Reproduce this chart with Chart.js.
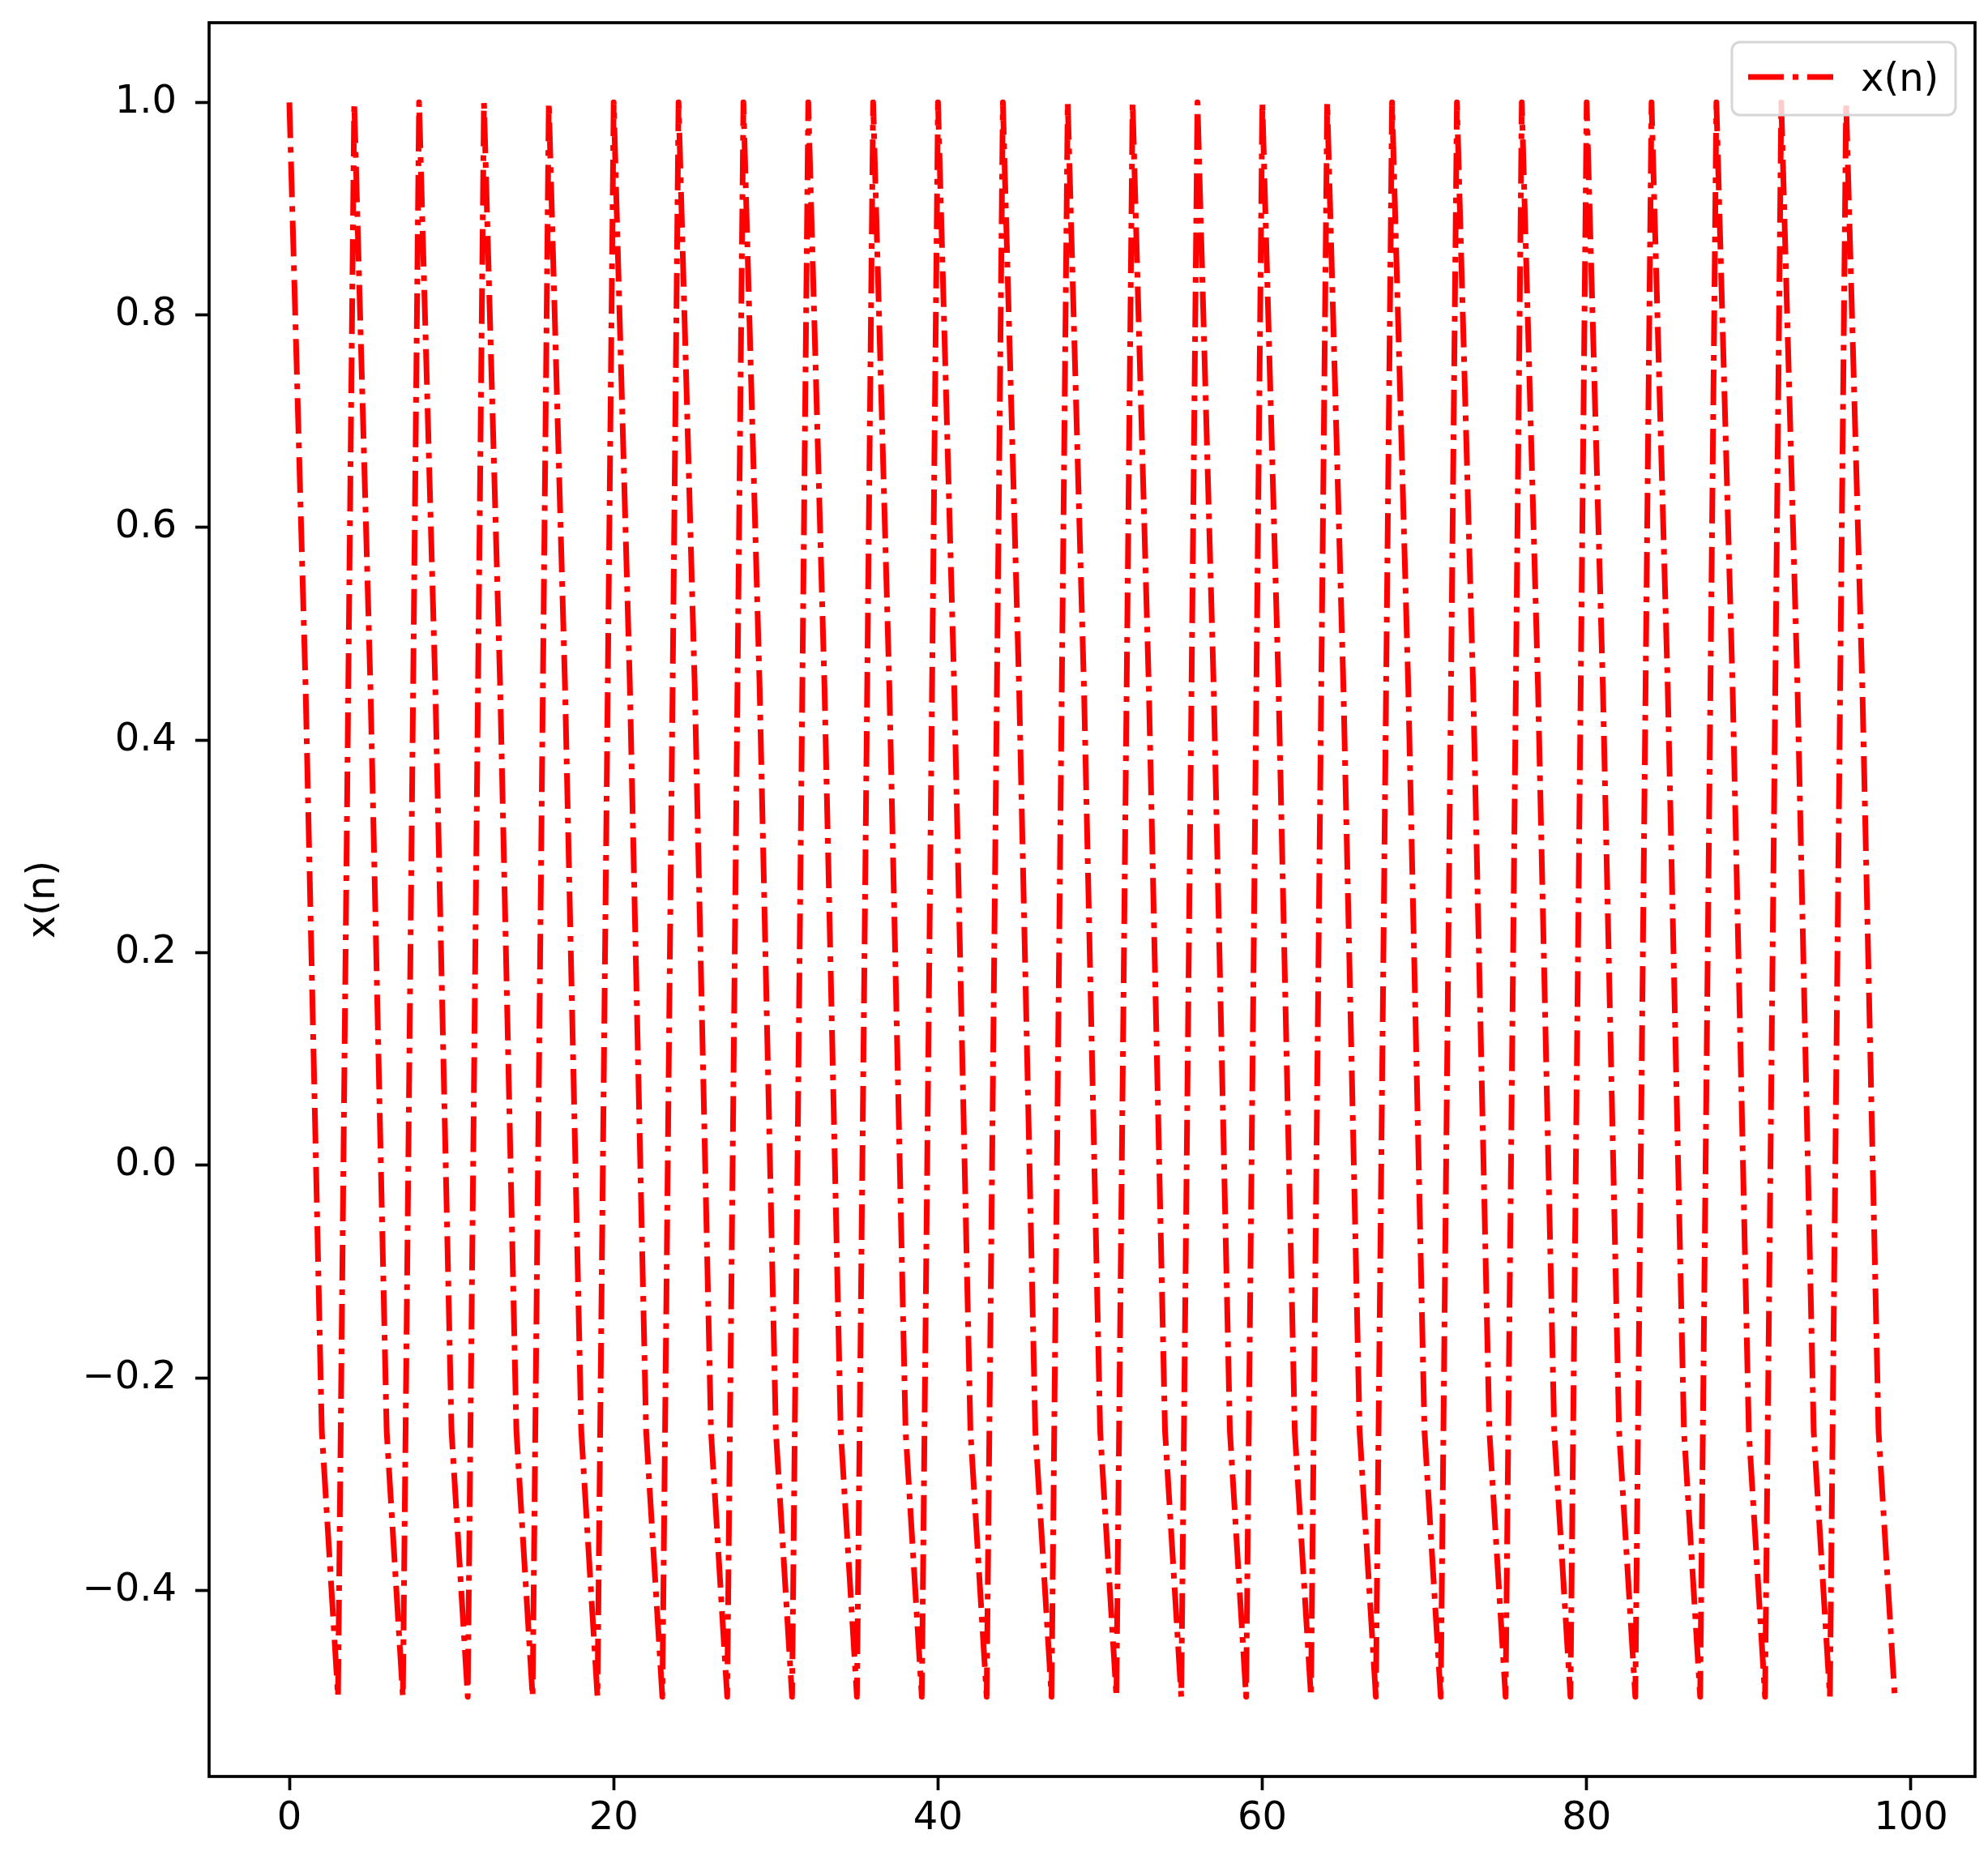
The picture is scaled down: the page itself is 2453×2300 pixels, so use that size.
<!DOCTYPE html>
<html>
<head>
<meta charset="utf-8">
<script src="https://cdn.jsdelivr.net/npm/chart.js@4.4.1/dist/chart.umd.min.js"></script>
<style>
  html, body { margin: 0; padding: 0; background: #fff; }
  #wrap { width: 2453px; height: 2300px; }
</style>
</head>
<body>
<div id="wrap"><canvas id="chart" width="2453" height="2300"></canvas></div>
<script>
// x(n) for n = 0..99 (repeats every 4 samples)
const seriesLabel = "x(n)";
const xValues = [
  1.0, 0.45, -0.25, -0.5,   1.0, 0.45, -0.25, -0.5,   1.0, 0.45, -0.25, -0.5,
  1.0, 0.45, -0.25, -0.5,   1.0, 0.45, -0.25, -0.5,   1.0, 0.45, -0.25, -0.5,
  1.0, 0.45, -0.25, -0.5,   1.0, 0.45, -0.25, -0.5,   1.0, 0.45, -0.25, -0.5,
  1.0, 0.45, -0.25, -0.5,   1.0, 0.45, -0.25, -0.5,   1.0, 0.45, -0.25, -0.5,
  1.0, 0.45, -0.25, -0.5,   1.0, 0.45, -0.25, -0.5,   1.0, 0.45, -0.25, -0.5,
  1.0, 0.45, -0.25, -0.5,   1.0, 0.45, -0.25, -0.5,   1.0, 0.45, -0.25, -0.5,
  1.0, 0.45, -0.25, -0.5,   1.0, 0.45, -0.25, -0.5,   1.0, 0.45, -0.25, -0.5,
  1.0, 0.45, -0.25, -0.5,   1.0, 0.45, -0.25, -0.5,   1.0, 0.45, -0.25, -0.5,
  1.0, 0.45, -0.25, -0.5,
];
const xTicks = [0, 20, 40, 60, 80, 100];
const yTicks = [-0.4, -0.2, 0.0, 0.2, 0.4, 0.6, 0.8, 1.0];

const FONT = "'DejaVu Sans', sans-serif";
const RED = "#ff0000";
const DASH = [44, 11, 7, 11];

// matplotlib-style box round the axes
const framePlugin = {
  id: "frame",
  afterDatasetsDraw(chart) {
    const { ctx, chartArea: a } = chart;
    ctx.save();
    ctx.strokeStyle = "#000";
    ctx.lineWidth = 3.7;
    ctx.strokeRect(a.left, a.top, a.right - a.left, a.bottom - a.top);
    ctx.restore();
  },
};

// legend box in the upper right corner
const legendPlugin = {
  id: "mplLegend",
  afterDraw(chart) {
    const { ctx, chartArea: a } = chart;
    const w = 276, h = 90;
    const x = a.right - 24 - w, y = a.top + 24;
    ctx.save();
    ctx.beginPath();
    ctx.roundRect(x, y, w, h, 10);
    ctx.fillStyle = "rgba(255,255,255,0.8)";
    ctx.fill();
    ctx.strokeStyle = "#d6d6d6";
    ctx.lineWidth = 3;
    ctx.stroke();

    ctx.beginPath();
    ctx.setLineDash(DASH);
    ctx.lineCap = "butt";
    ctx.strokeStyle = RED;
    ctx.lineWidth = 7;
    ctx.moveTo(x + 20, y + 43);
    ctx.lineTo(x + 125, y + 43);
    ctx.stroke();
    ctx.setLineDash([]);

    ctx.fillStyle = "#000";
    ctx.font = "48px " + FONT;
    ctx.textBaseline = "alphabetic";
    ctx.textAlign = "left";
    ctx.fillText(seriesLabel, x + 159, y + 60);
    ctx.restore();
  },
};

// fix the axis boxes so the plot area sits where the reference has it
function fitX(s) {
  s.height = 108;
  s.paddingLeft = 0; s.paddingRight = 0; s.paddingTop = 0; s.paddingBottom = 0;
}
function fitY(s) {
  s.width = 258;
  s.paddingLeft = 0; s.paddingRight = 0; s.paddingTop = 0; s.paddingBottom = 0;
}

new Chart(document.getElementById("chart"), {
  type: "line",
  data: {
    datasets: [
      {
        label: seriesLabel,
        data: xValues.map((v, i) => ({ x: i, y: v })),
        borderColor: RED,
        borderWidth: 7,
        borderDash: DASH,
        borderCapStyle: "butt",
        borderJoinStyle: "round",
        pointRadius: 0,
        tension: 0,
        fill: false,
      },
    ],
  },
  options: {
    responsive: false,
    animation: false,
    devicePixelRatio: 1,
    layout: { padding: { left: 0, top: 28, right: 16, bottom: 0 } },
    plugins: {
      legend: { display: false },
      tooltip: { enabled: false },
    },
    scales: {
      x: {
        type: "linear",
        min: -4.95,
        max: 103.95,
        afterBuildTicks: (s) => { s.ticks = xTicks.map((v) => ({ value: v })); },
        afterFit: fitX,
        border: { display: false },
        grid: { drawOnChartArea: false, drawTicks: true, tickLength: 17, tickWidth: 3.7, tickColor: "#000" },
        ticks: {
          color: "#000",
          padding: 7,
          maxRotation: 0,
          font: { family: FONT, size: 48 },
          callback: (v) => String(v),
        },
      },
      y: {
        type: "linear",
        min: -0.575,
        max: 1.075,
        afterBuildTicks: (s) => { s.ticks = yTicks.map((v) => ({ value: v })); },
        afterFit: fitY,
        border: { display: false },
        grid: { drawOnChartArea: false, drawTicks: true, tickLength: 17, tickWidth: 3.7, tickColor: "#000" },
        title: {
          display: true,
          text: seriesLabel,
          color: "#000",
          font: { family: FONT, size: 48 },
          padding: { top: 26, bottom: 0 },
        },
        ticks: {
          color: "#000",
          padding: 23,
          font: { family: FONT, size: 48 },
          callback: (v) => (v < 0 ? "\u2212" : "") + Math.abs(v).toFixed(1),
        },
      },
    },
  },
  plugins: [framePlugin, legendPlugin],
});
</script>
</body>
</html>
